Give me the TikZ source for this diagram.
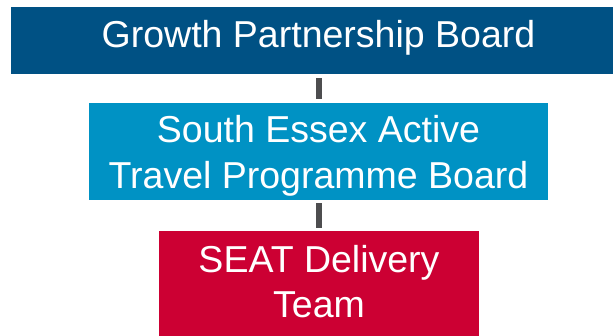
\documentclass[tikz,border=0pt]{standalone}
\usepackage{fontspec}
\setmainfont{Liberation Sans}
\usepackage{xcolor}
\usetikzlibrary{positioning,calc}
\definecolor{gpbblue}{RGB}{0,81,132}
\definecolor{satblue}{RGB}{0,146,196}
\definecolor{seatred}{RGB}{204,0,51}
\definecolor{linkgray}{RGB}{77,77,79}
\tikzset{
  board/.style={rectangle, inner sep=0pt, draw=none},
  boardtext/.style={inner sep=0pt, text=white, align=center, font=\fontsize{37.5}{45.5}\selectfont},
  link/.style={draw=linkgray, line width=6pt}
}

\begin{document}
\begin{tikzpicture}[x=1pt, y=-1pt]
  \useasboundingbox (0,0) rectangle (616,336);

  % boxes
  \node[board, fill=gpbblue, minimum width=602pt, minimum height=67pt] (gpb) at (312,40.5) {};
  \node[board, fill=satblue, minimum width=459pt, minimum height=97pt] (satpb) at (318.5,151.5) {};
  \node[board, fill=seatred, minimum width=320pt, minimum height=105pt] (seat) at (319,283.5) {};

  % labels
  \node[boardtext] (gpbtext) at (318.5,37.5) {Growth Partnership Board};
  \node[boardtext] (satpbtext) at (318.5,156) {South Essex Active\\Travel Programme Board};
  \node[boardtext] (seattext) at (319,281.5) {SEAT Delivery\\Team};

  % reporting lines
  \draw[link, shorten <=4pt, shorten >=4pt] (satpb.north |- gpb.south) -- (satpb.north);
  \draw[link, shorten <=3pt, shorten >=3pt] (seat.north |- satpb.south) -- (seat.north);
\end{tikzpicture}
\end{document}
